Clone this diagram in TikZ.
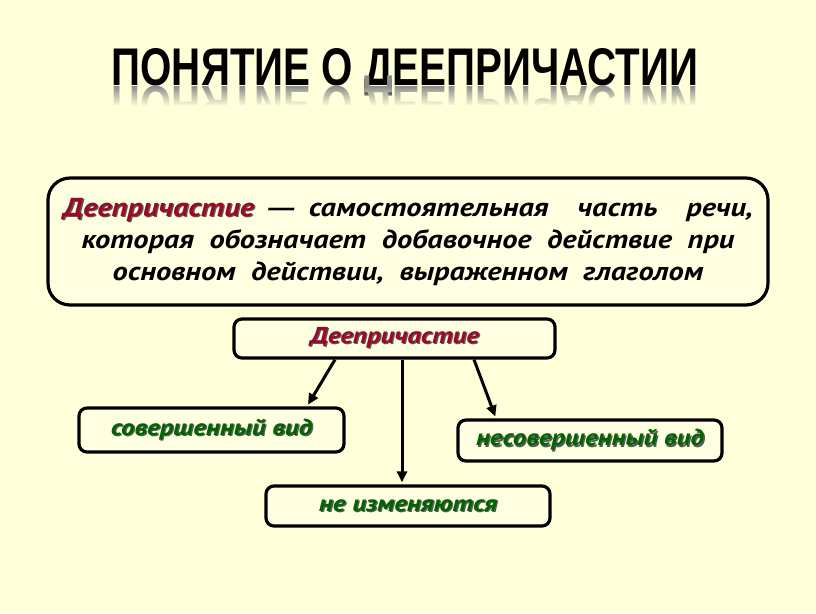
\documentclass[tikz,border=0pt]{standalone}
\usepackage{fontspec}
\setmainfont{PT Sans}[BoldItalicFont={PT Sans Bold Italic},BoldItalicFeatures={FakeStretch=1.17}]
\newfontfamily\titlefont[FakeStretch=0.76]{Liberation Sans}
\newfontfamily\dashfont{Liberation Sans}
\usetikzlibrary{arrows.meta,fadings}
\definecolor{bg}{RGB}{255,255,218}
\definecolor{boxfill}{RGB}{255,255,226}
\definecolor{dred}{RGB}{158,8,38}
\definecolor{dgreen}{RGB}{0,100,0}
\newcommand\shtext[2]{{\color{black!65}\rlap{\hspace{1.3pt}\raisebox{-1.3pt}{#2}}}{\color{#1}#2}}
\tikzset{
  card/.style={draw=black, line width=3.2pt, fill=boxfill, rounded corners=#1, inner sep=0pt},
  lbl/.style={font=\fontsize{23}{24}\selectfont\bfseries\itshape},
  arr/.style={line width=3pt, -{Triangle[length=11pt,width=10pt]}, shorten >=2pt}
}
\begin{document}
\begin{tikzpicture}[x=1pt,y=-1pt]
\useasboundingbox[fill=bg] (0,0) rectangle (816,613);
% title
\node[font=\titlefont\bfseries\fontsize{53}{60}\selectfont, anchor=base] (title) at (405,85) {ПОНЯТИЕ О ДЕЕПРИЧАСТИИ};
\node[font=\titlefont\bfseries\fontsize{53}{60}\selectfont, anchor=base, yscale=-1, transform shape, text=black!45] (refl) at (405,86) {ПОНЯТИЕ О ДЕЕПРИЧАСТИИ};
\fill[bg, path fading=north] (90,86) rectangle (730,106);
\fill[bg] (90,105) rectangle (730,135);
% definition box
\node[card=22pt, minimum width=720pt, minimum height=127pt, align=center,
  font=\fontsize{26}{32}\selectfont\bfseries\itshape] (def) at (408,241.5)
 {\makebox[690pt][s]{\shtext{dred}{Деепричастие} {\dashfont\bfseries\itshape —} самостоятельная \ часть \ речи,}\\
  \makebox[653pt][s]{которая обозначает добавочное действие при}\\
  основном \ действии, \ выраженном \ глаголом};
% scheme
\node[card=8pt, minimum width=321pt, minimum height=39pt, lbl] (d) at (394.5,338.5) {\shtext{dred}{Деепричастие}};
\node[card=8pt, minimum width=265pt, minimum height=44pt, lbl] (sov) at (211.5,430) {\shtext{dgreen}{совершенный вид}};
\node[card=8pt, minimum width=264pt, minimum height=41pt, lbl] (nesov) at (590,440.5) {\shtext{dgreen}{несовершенный вид}};
\node[card=8pt, minimum width=284pt, minimum height=40pt, lbl] (ne) at (408,506) {\shtext{dgreen}{не изменяются}};
\draw[arr] ([xshift=-59.5pt]d.south) -- ([xshift=95.5pt]sov.north);
\draw[arr] ([xshift=7.5pt]d.south) -- ([xshift=-6pt]ne.north);
\draw[arr] ([xshift=79.5pt]d.south) -- ([xshift=-94pt]nesov.north);
\end{tikzpicture}
\end{document}
